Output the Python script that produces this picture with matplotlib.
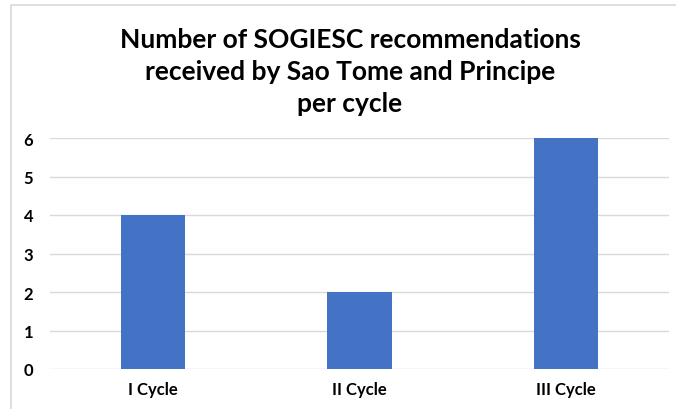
import matplotlib.pyplot as plt
from matplotlib.patches import Rectangle

categories = ["I Cycle", "II Cycle", "III Cycle"]
values = [4, 2, 6]
y_ticks = [0, 1, 2, 3, 4, 5, 6]

plt.rcParams['font.family'] = ['Lato', 'DejaVu Sans']

fig = plt.figure(figsize=(6.76, 4.10), dpi=100)

# light outer frame (only top and left visible in the reference)
fig.patches.append(Rectangle((11 / 676, -0.1), 1.2, 1 - 6 / 410 + 0.1,
                             transform=fig.transFigure, fill=False,
                             edgecolor="#d9d9d9", linewidth=1.2))

ax = fig.add_axes([50 / 676, 1 - 370 / 410, 619 / 676, 231 / 410])
ax.bar(range(len(categories)), values, width=0.313, color="#4472c4", zorder=3)

ax.set_xlim(-0.5, len(categories) - 0.5)
ax.set_ylim(0, 6)
ax.set_yticks(y_ticks)
ax.set_xticks(range(len(categories)))
ax.set_xticklabels(categories)
ax.grid(axis="y", color="#d9d9d9", linewidth=1, zorder=0)
for s in ax.spines.values():
    s.set_visible(False)
ax.tick_params(length=0, labelsize=12)
ax.tick_params(axis="y", pad=12)
ax.tick_params(axis="x", pad=9)
for lab in ax.get_xticklabels() + ax.get_yticklabels():
    lab.set_fontweight("bold")

fig.text(350 / 676, 1 - 72 / 410,
         "Number of SOGIESC recommendations\nreceived by Sao Tome and Principe\nper cycle",
         ha="center", va="center", fontsize=19, fontweight="bold",
         linespacing=1.4)

fig.savefig("out.png", dpi=100)
